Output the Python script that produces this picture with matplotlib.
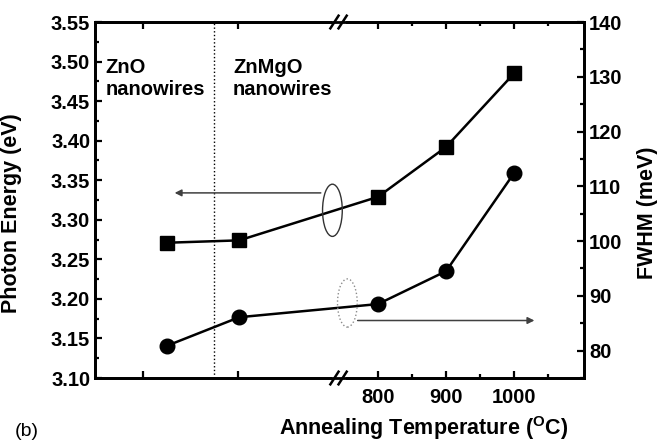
import matplotlib
matplotlib.use("Agg")
import matplotlib.pyplot as plt
from matplotlib.patches import Ellipse, Rectangle
from matplotlib.ticker import MultipleLocator, FixedLocator

plt.rcParams['font.family'] = ['Liberation Sans', 'DejaVu Sans']
plt.rcParams['mathtext.fontset'] = 'custom'
plt.rcParams['mathtext.rm'] = 'Liberation Sans:bold'

# x positions on the (broken) temperature axis; first two are the unannealed samples
x_pos = [490, 596, 800, 900, 1000]
photon_energy = [3.271, 3.274, 3.329, 3.392, 3.485]   # eV, left axis
fwhm = [80.9, 86.1, 88.5, 94.5, 112.4]                # meV, right axis
temp_ticks = [455, 594, 800, 900, 1000]
temp_labels = ["", "", "800", "900", "1000"]

fig = plt.figure(figsize=(6.63, 4.43), dpi=100)
ax = fig.add_axes([0.1433, 0.1467, 0.7377, 0.8036])
ax2 = ax.twinx()

ax.plot(x_pos, photon_energy, color='k', lw=1.8, marker='s', ms=9.5,
        markeredgecolor='k')
ax2.plot(x_pos, fwhm, color='k', lw=1.8, marker='o', ms=10.5,
         markeredgecolor='k')

ax.set_xlim(384, 1103)
ax.set_ylim(3.10, 3.55)
ax2.set_ylim(75, 140)

ax.xaxis.set_major_locator(FixedLocator(temp_ticks))
ax.set_xticklabels(temp_labels)
ax.xaxis.set_minor_locator(FixedLocator([850, 950, 1050]))
ax.yaxis.set_major_locator(MultipleLocator(0.05))
ax.yaxis.set_minor_locator(MultipleLocator(0.025))
ax2.yaxis.set_major_locator(MultipleLocator(10))
ax2.yaxis.set_minor_locator(MultipleLocator(5))
ax.yaxis.set_major_formatter(matplotlib.ticker.FormatStrFormatter('%.2f'))

ax.tick_params(axis='both', which='both', direction='in', top=True,
               labelsize=14.5, width=1.6)
ax.tick_params(axis='y', which='both', right=False)
ax.tick_params(which='major', length=5)
ax.tick_params(which='minor', length=3)
ax.tick_params(axis='x', pad=7)
ax2.tick_params(axis='y', which='both', direction='in', labelsize=14.5, width=1.6)
ax2.tick_params(which='major', length=5)
ax2.tick_params(which='minor', length=3)
for a in (ax, ax2):
    for lab in a.get_xticklabels() + a.get_yticklabels():
        lab.set_fontweight('bold')
    for sp in a.spines.values():
        sp.set_linewidth(2)

ax.set_ylabel("Photon Energy (eV)", fontsize=15.5, fontweight='bold')
ax.yaxis.set_label_coords(-0.149, 0.463)
ax2.set_ylabel("FWHM (meV)", fontsize=15.5, fontweight='bold')
ax2.yaxis.set_label_coords(1.108, 0.463)
ax.set_xlabel(r"Annealing Temperature ($\mathrm{^{O}}$C)", fontsize=15.5,
              fontweight='bold', va='center')
ax.xaxis.set_label_coords(0.671, -0.14)

# axis break marks
for yb in (3.10, 3.55):
    ax.add_patch(Rectangle((733, yb - 0.004), 20, 0.008, facecolor='white',
                           edgecolor='none', clip_on=False, zorder=5))
    for xb in (736, 748):
        ax.plot([xb - 6, xb + 6], [yb - 0.008, yb + 0.008], color='k', lw=1.8,
                clip_on=False, zorder=6)

# region divider and labels
ax.axvline(559, color='k', ls=':', lw=1)
ax.text(399, 3.505, "ZnO\nnanowires", fontsize=14.5, fontweight='bold',
        va='top', ha='left', linespacing=1.2)
ax.text(587, 3.505, "ZnMgO\nnanowires", fontsize=14.5, fontweight='bold',
        va='top', ha='left', linespacing=1.2)

# ellipses with arrows pointing to the corresponding axis
ax.add_patch(Ellipse((733, 3.312), 29, 0.066, fill=False, edgecolor='0.2', lw=1,
                     zorder=4))
ax.annotate("", xy=(497, 3.334), xytext=(720, 3.334),
            arrowprops=dict(arrowstyle='-|>', color='0.25', lw=1.1,
                            mutation_scale=10))
ax2.add_patch(Ellipse((755, 88.7), 29, 8.8, fill=False, edgecolor='0.55', lw=1,
                      ls=':', zorder=4))
ax2.annotate("", xy=(1034, 85.5), xytext=(766, 85.5),
             arrowprops=dict(arrowstyle='-|>', color='0.25', lw=1.1,
                             mutation_scale=10))

fig.text(0.022, 0.016, "(b)", fontsize=14)

fig.savefig("out.png", dpi=100)
